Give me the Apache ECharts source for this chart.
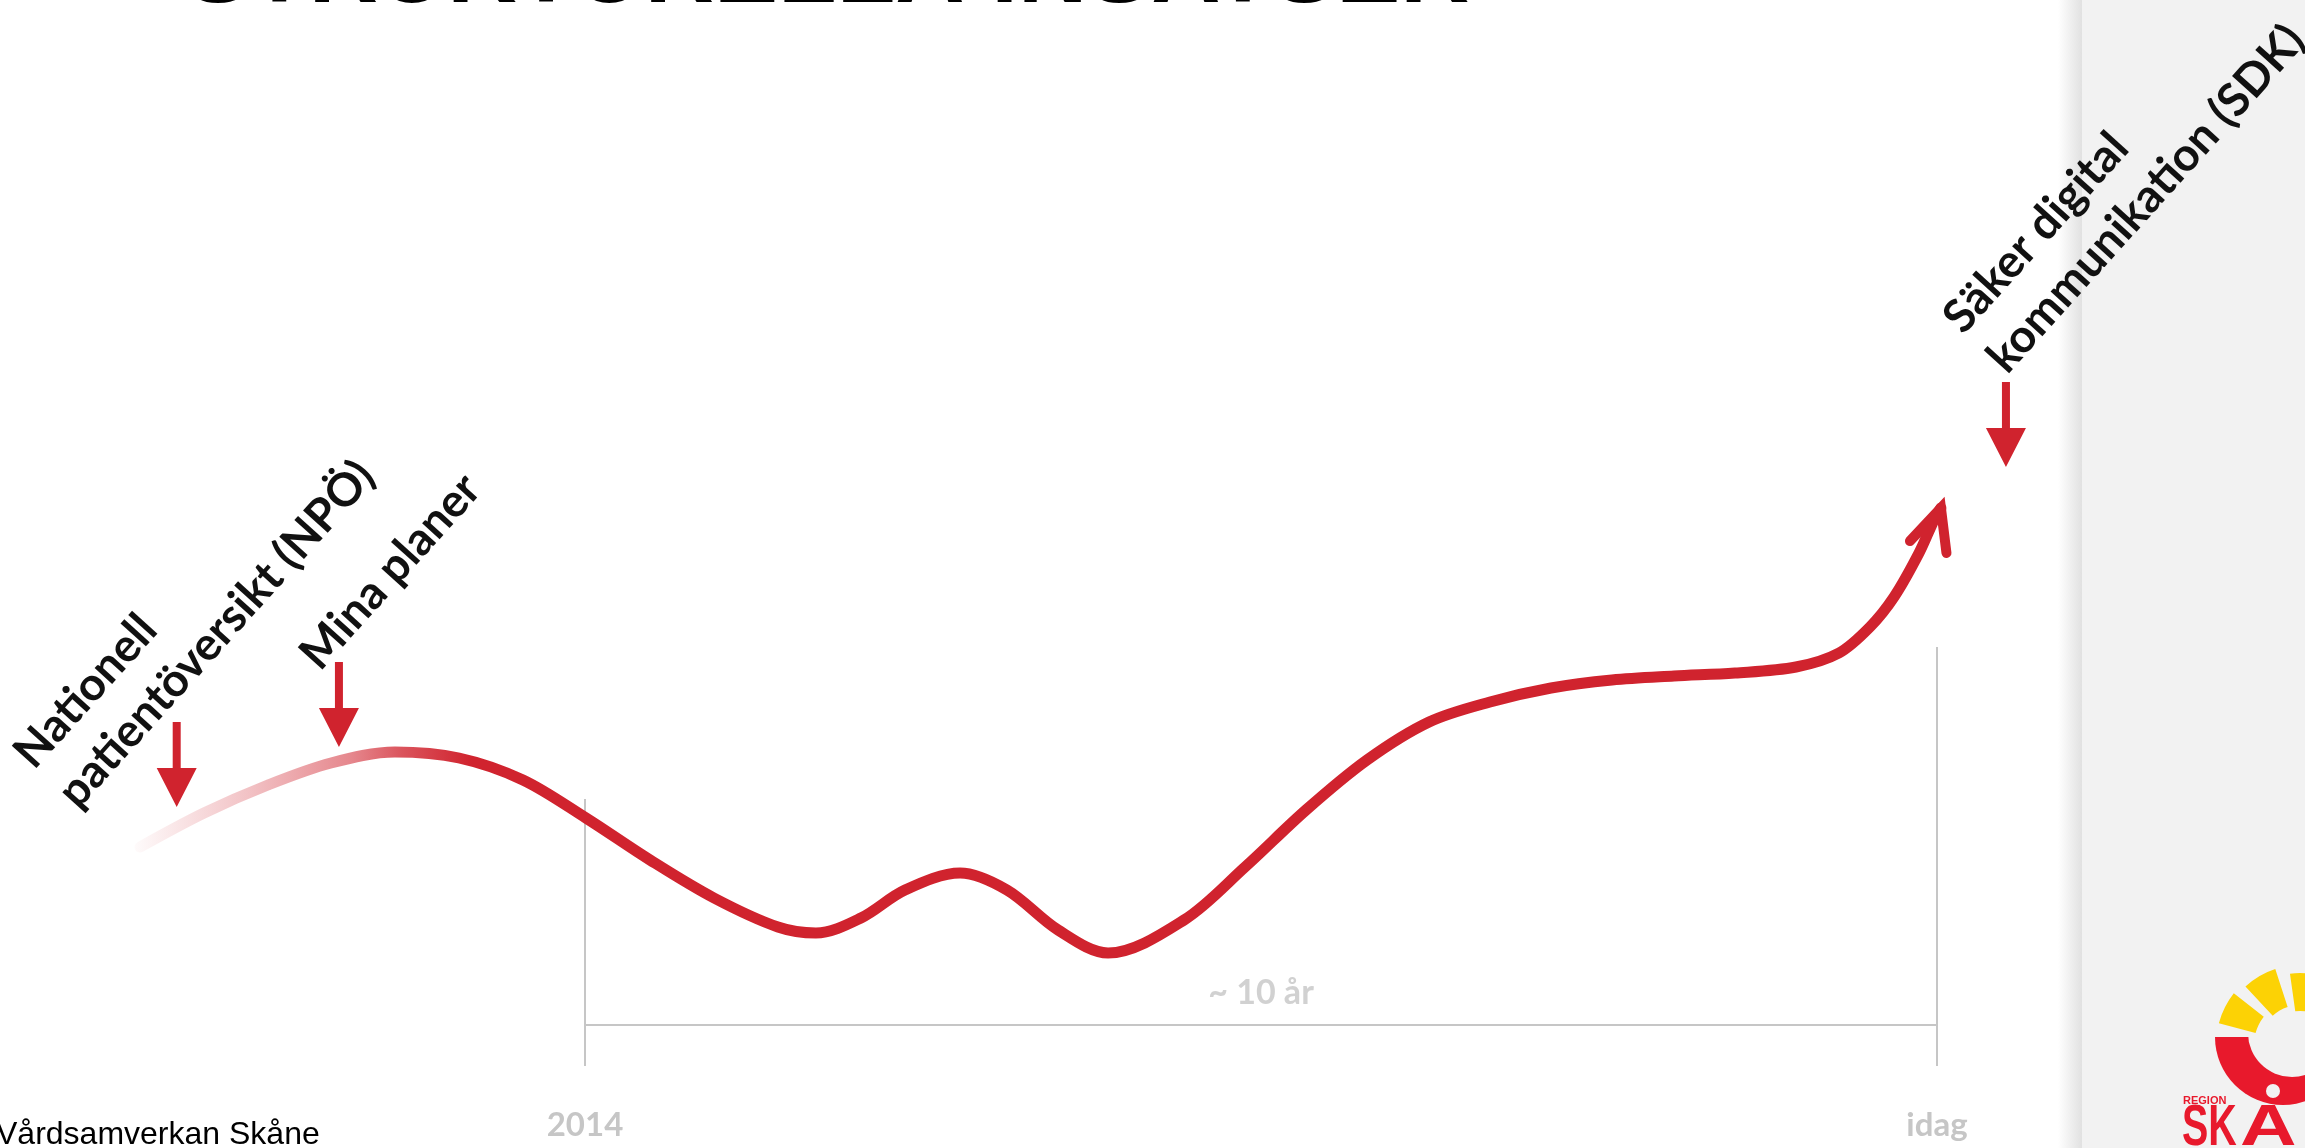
<!DOCTYPE html>
<html>
<head>
<meta charset="utf-8">
<script src="https://cdn.jsdelivr.net/npm/echarts@6/dist/echarts.min.js"></script>
<style>html,body{margin:0;padding:0;background:#fff;overflow:hidden}#c{width:2305px;height:1148px}</style>
</head>
<body>
<div id="c"></div>
<script>
// ---- data (x in years, y in abstract "level" units 0..100) ----
const curveYears  = [2010.709, 2011.182, 2011.655, 2012.121, 2012.594, 2013.068, 2013.541, 2014.007, 2014.481, 2014.954, 2015.427, 2015.708, 2016.041, 2016.367, 2016.774, 2017.121, 2017.499, 2017.869, 2018.431, 2018.882, 2019.333, 2019.784, 2020.243, 2020.694, 2021.145, 2021.596, 2022.055, 2022.506, 2022.957, 2023.275, 2023.504, 2023.682, 2023.867, 2023.978, 2024.029];
const curveLevels = [25.3, 28.7, 31.5, 33.7, 34.8, 34.2, 32.0, 28.2, 24.0, 20.2, 17.3, 16.7, 18.2, 21.0, 22.7, 21.0, 17.0, 14.7, 18.0, 23.3, 29.0, 34.0, 37.8, 39.8, 41.2, 42.0, 42.4, 42.7, 43.3, 44.7, 47.3, 50.3, 54.7, 58.0, 59.2];
const headYears  = [2023.80, 2024.029, 2024.07];
const headLevels = [55.9, 59.2, 54.7];
const guideFromX = [2014, 2024, 2014];
const guideFromY = [30.1, 45.3, 7.5];
const guideToX   = [2014, 2024, 2024];
const guideToY   = [3.4, 3.4, 7.5];
const tickValues = [2014, 2024];
const tickLabels = ['2014', 'idag'];
const spanText = ['~ 10 år'];
const spanX = [2019.0];
const spanY = [10.7];
const eventNames  = ['Nationell\npatientöversikt (NPÖ)', 'Mina planer', 'Säker digital\nkommunikation (SDK)'];
const eventArrowX = [2010.98, 2012.18, 2024.51];
const eventArrowTip = [29.3, 35.3, 63.3];
const eventLabelX = [2010.33, 2012.12, 2024.60];
const eventLabelY = [28.0, 41.8, 71.5];
const titleText = 'STRUKTURELLA INSATSER';
const footerText = 'Vårdsamverkan Skåne';

const RED = '#d0232e';
const GRAY = '#c6c6c6';
const chart = echarts.init(document.getElementById('c'), null, {renderer: 'canvas', width: 2305, height: 1148});

const lineGrad = new echarts.graphic.LinearGradient(0, 0, 1, 0, [
  {offset: 0, color: 'rgba(208,35,46,0.02)'},
  {offset: 0.063, color: 'rgba(208,35,46,0.28)'},
  {offset: 0.12, color: 'rgba(208,35,46,0.55)'},
  {offset: 0.148, color: 'rgba(208,35,46,0.78)'},
  {offset: 0.186, color: 'rgba(208,35,46,1)'},
  {offset: 1, color: 'rgba(208,35,46,1)'}
]);

chart.setOption({
  animation: false,
  backgroundColor: '#ffffff',
  grid: {left: 44.2, right: 232.8, top: 100, bottom: 48, containLabel: false},
  xAxis: {
    type: 'value', min: 2010, max: 2025, interval: 1,
    axisLine: {show: false}, axisTick: {show: false}, splitLine: {show: false},
    axisLabel: {
      margin: 9, color: GRAY, fontFamily: 'Lato', fontWeight: 'bold', fontSize: 33,
      formatter: v => { const i = tickValues.indexOf(v); return i >= 0 ? tickLabels[i] : ''; }
    }
  },
  yAxis: {type: 'value', min: 0, max: 100, show: false},
  series: [
    {
      type: 'lines', coordinateSystem: 'cartesian2d', silent: true, z: 1,
      lineStyle: {color: GRAY, width: 2, opacity: 1},
      data: guideFromX.map((x, i) => ({coords: [[x, guideFromY[i]], [guideToX[i], guideToY[i]]]}))
    },
    {
      type: 'line', silent: true, smooth: 0.33, symbol: 'none', z: 3,
      lineStyle: {width: 11, color: lineGrad, cap: 'round', join: 'round'},
      data: curveYears.map((x, i) => [x, curveLevels[i]])
    },
    {
      type: 'line', silent: true, smooth: false, symbol: 'none', z: 4,
      lineStyle: {width: 10, color: RED, cap: 'round', join: 'miter'},
      data: headYears.map((x, i) => [x, headLevels[i]])
    },
    {
      type: 'scatter', silent: true, z: 5,
      symbol: 'path://M16,0L24,0L24,46L40,46L20,85L0,46L16,46Z',
      symbolSize: [40, 85], symbolOffset: [0, '-50%'],
      itemStyle: {color: RED, opacity: 1},
      data: eventArrowX.map((x, i) => [x, eventArrowTip[i]])
    },
    {
      type: 'scatter', silent: true, z: 5, symbolSize: 0,
      label: {show: true, position: 'inside', formatter: p => spanText[p.dataIndex],
        color: GRAY, fontFamily: 'Lato', fontWeight: 'bold', fontSize: 34},
      data: spanX.map((x, i) => [x, spanY[i]])
    }
  ]
});

const panelEls = [
  {type: 'rect', silent: true, z: -10, shape: {x: 2058, y: 0, width: 24, height: 1148},
   style: {fill: new echarts.graphic.LinearGradient(0, 0, 1, 0, [{offset: 0, color: 'rgba(255,255,255,1)'}, {offset: 1, color: '#e1e1e1'}])}},
  {type: 'rect', silent: true, z: -10, shape: {x: 2082, y: 0, width: 223, height: 1148}, style: {fill: '#f2f2f2'}},
  // logo (Region Skåne) approximation
  {type: 'sector', silent: true, z: -7, shape: {cx: 2283, cy: 1037, r0: 0, r: 68, startAngle: 0, endAngle: Math.PI}, style: {fill: '#e8192c'}},
  {type: 'circle', silent: true, z: -6, shape: {cx: 2292, cy: 1033, r: 44}, style: {fill: '#f2f2f2'}},
  {type: 'sector', silent: true, z: -5, shape: {cx: 2300, cy: 1045, r0: 46, r: 84, startAngle: 195 * Math.PI / 180, endAngle: 218 * Math.PI / 180}, style: {fill: '#fcd205'}},
  {type: 'sector', silent: true, z: -5, shape: {cx: 2300, cy: 1045, r0: 40, r: 80, startAngle: 227 * Math.PI / 180, endAngle: 252 * Math.PI / 180}, style: {fill: '#fcd205'}},
  {type: 'sector', silent: true, z: -5, shape: {cx: 2300, cy: 1045, r0: 34, r: 72, startAngle: 262 * Math.PI / 180, endAngle: 285 * Math.PI / 180}, style: {fill: '#fcd205'}},
  {type: 'circle', silent: true, z: -4, shape: {cx: 2273, cy: 1091, r: 7}, style: {fill: '#f2f2f2'}},
  {type: 'text', silent: true, z: -4, x: 2183, y: 1101, style: {text: 'REGION', fill: '#e8192c', fontFamily: 'Liberation Sans', fontWeight: 'bold', fontSize: 11, align: 'left', verticalAlign: 'middle'}},
  {type: 'text', silent: true, z: -4, x: 2182, y: 1129, scaleX: 0.68, style: {text: 'SK', fill: '#e8192c', fontFamily: 'Liberation Sans', fontWeight: 'bold', fontSize: 58, align: 'left', verticalAlign: 'middle'}},
  {type: 'text', silent: true, z: -4, x: 2240, y: 1129, scaleX: 1.35, style: {text: 'A', fill: '#e8192c', fontFamily: 'Liberation Sans', fontWeight: 'bold', fontSize: 58, align: 'left', verticalAlign: 'middle'}},
  // title (cut off at top) and footer
  {type: 'text', silent: true, z: 10, x: 186, y: -24, style: {text: titleText, fill: '#000', fontFamily: 'Liberation Sans', fontWeight: 'bold', fontSize: 96, align: 'left', verticalAlign: 'middle',
    shadowColor: 'rgba(0,0,0,0.45)', shadowBlur: 6, shadowOffsetX: 3, shadowOffsetY: 4}},
  {type: 'text', silent: true, z: 10, x: -4, y: 1135, style: {text: footerText, fill: '#000', fontFamily: 'Liberation Sans', fontSize: 32, align: 'left', verticalAlign: 'middle'}}
];

const labelEls = eventNames.map((name, i) => {
  const p = chart.convertToPixel({gridIndex: 0}, [eventLabelX[i], eventLabelY[i]]);
  return {type: 'text', silent: true, z: 20, x: p[0], y: p[1], rotation: 48 * Math.PI / 180,
    style: {text: name, fill: '#111', fontFamily: 'Lato', fontWeight: 'bold', fontSize: 46, lineHeight: 59, align: 'left', verticalAlign: 'bottom'}};
});

chart.setOption({graphic: {elements: panelEls.concat(labelEls)}});
</script>
</body>
</html>
